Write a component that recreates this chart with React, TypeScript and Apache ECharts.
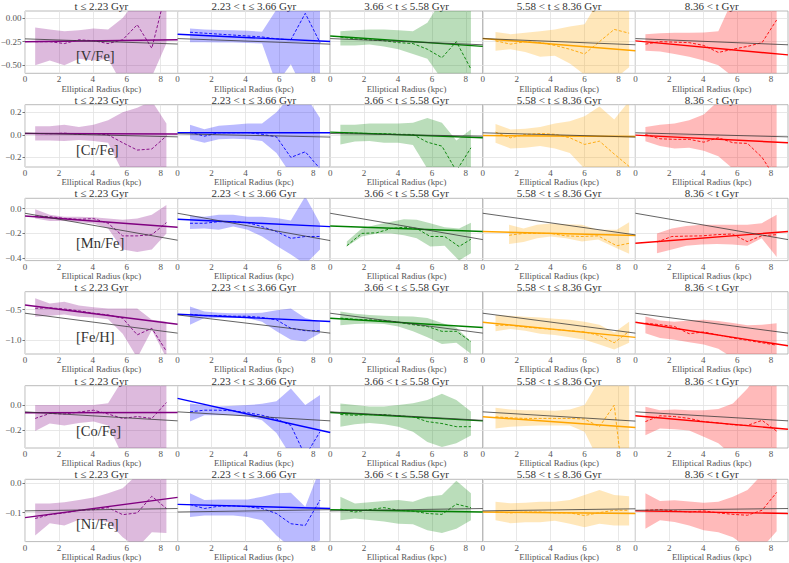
import { useEffect, useRef } from "react";
import * as echarts from "echarts";

// ---------- labels ----------
const AGE_BINS = ["t ≤ 2.23 Gyr", "2.23 < t ≤ 3.66 Gyr", "3.66 < t ≤ 5.58 Gyr", "5.58 < t ≤ 8.36 Gyr", "8.36 < t Gyr"];
const ELEMENTS = ["[V/Fe]", "[Cr/Fe]", "[Mn/Fe]", "[Fe/H]", "[Co/Fe]", "[Ni/Fe]"];
const X_LABEL = "Elliptical Radius (kpc)";
const X_TICKS = [0, 2, 4, 6, 8];
const X_RANGE = [0, 9];

// y axis per row
const Y_RANGES = [[-0.585, 0.075], [-0.285, 0.267], [-0.42, 0.084], [-1.236, -0.203], [-0.338, 0.153], [-0.199, 0.0138]];
const Y_TICKS = [[-0.5, -0.25, 0], [-0.2, 0, 0.2], [-0.4, -0.2, 0], [-1.0, -0.5], [-0.2, 0], [-0.1, 0]];
const Y_TICK_DECIMALS = [2, 1, 1, 1, 1, 1];

// radial bin centres (kpc) per age column
const RADII = [
  [0.6, 1.46, 2.32, 3.18, 4.04, 4.9, 5.76, 6.62, 7.48, 8.34],
  [0.73, 1.58, 2.43, 3.28, 4.13, 4.98, 5.83, 6.68, 7.53, 8.4],
  [0.6, 1.46, 2.31, 3.17, 4.02, 4.88, 5.73, 6.59, 7.44, 8.3],
  [0.75, 1.63, 2.5, 3.38, 4.25, 5.13, 6.0, 6.88, 7.75, 8.63],
  [0.59, 1.45, 2.31, 3.17, 4.03, 4.89, 5.75, 6.61, 7.47, 8.33],
];
// [Mn/Fe] has fewer inner bins in the older columns
const MN_RADII_COL3 = [0.98, 1.86, 2.74, 3.6, 4.35, 5.1, 5.9, 6.75, 7.6, 8.3];
const MN_RADII_COL4 = [1.55, 2.4, 3.2, 4.0, 4.9, 5.85, 6.8, 7.9, 8.63];
const MN_RADII_COL5 = [1.27, 2.15, 3.0, 3.9, 4.8, 5.7, 6.6, 7.45, 8.33];

// ---------- [V/Fe] ----------
const V_UPPER = [
  [-0.1, -0.12, -0.14, -0.13, -0.11, -0.12, 0.0, 0.2, 0.37, 0.48],
  [-0.11, -0.12, -0.125, -0.13, -0.135, -0.145, 0.09, 0.3, 0.4, 0.45],
  [-0.14, -0.13, -0.12, -0.12, -0.13, -0.14, -0.05, 0.2, 0.3, 0.3],
  [-0.147, -0.17, -0.155, -0.14, -0.12, -0.09, -0.066, 0.2, 0.3, 0.3],
  [-0.17, -0.16, -0.155, -0.155, -0.154, -0.14, 0.2, 0.3, 0.3, 0.3],
];
const V_LOWER = [
  [-0.5, -0.45, -0.5, -0.43, -0.45, -0.43, -0.71, -0.85, -0.62, -0.27],
  [-0.255, -0.255, -0.26, -0.26, -0.265, -0.27, -0.7, -0.49, -0.8, -0.8],
  [-0.29, -0.29, -0.28, -0.3, -0.33, -0.38, -0.43, -0.65, -0.65, -0.65],
  [-0.346, -0.33, -0.36, -0.41, -0.4, -0.48, -0.6, -0.65, -0.65, -0.52],
  [-0.346, -0.355, -0.38, -0.41, -0.45, -0.5, -0.62, -0.65, -0.65, -0.65],
];
const V_MEDIAN = [
  [-0.25, -0.25, -0.27, -0.23, -0.24, -0.27, -0.23, -0.07, -0.32, 0.3],
  [-0.15, -0.16, -0.17, -0.18, -0.19, -0.2, -0.22, -0.23, 0.05, -0.26],
  [-0.2, -0.22, -0.23, -0.24, -0.26, -0.27, -0.33, -0.42, -0.25, -0.54],
  [-0.241, -0.276, -0.25, -0.26, -0.29, -0.33, -0.38, -0.25, -0.12, -0.16],
  [-0.276, -0.25, -0.255, -0.26, -0.29, -0.364, -0.33, -0.3, -0.26, -0.02],
];
const V_FIT = [[-0.25, -0.23], [-0.171, -0.248], [-0.19, -0.3], [-0.217, -0.346], [-0.241, -0.39]];
const V_ALL_FIT = [[-0.22, -0.275], [-0.217, -0.276], [-0.217, -0.283], [-0.217, -0.283], [-0.217, -0.283]];

// ---------- [Cr/Fe] ----------
const CR_UPPER = [
  [0.076, 0.076, 0.09, 0.07, 0.09, 0.13, 0.2, 0.24, 0.3, 0.1],
  [0.09, 0.05, 0.08, 0.09, 0.1, 0.1, 0.2, 0.35, 0.35, 0.15],
  [0.09, 0.09, 0.1, 0.1, 0.1, 0.106, 0.15, 0.106, -0.05, 0.047],
  [0.097, 0.047, 0.055, 0.07, 0.1, 0.12, 0.165, 0.25, 0.135, 0.3],
  [0.07, 0.09, 0.1, 0.13, 0.18, 0.3, 0.35, 0.35, 0.35, 0.3],
];
const CR_LOWER = [
  [-0.05, -0.05, -0.055, -0.045, -0.055, -0.07, -0.33, -0.4, -0.4, -0.35],
  [-0.04, -0.07, -0.04, -0.035, -0.04, -0.055, -0.16, -0.35, -0.4, -0.4],
  [-0.085, -0.06, -0.055, -0.07, -0.07, -0.09, -0.3, -0.35, -0.4, -0.4],
  [-0.07, -0.12, -0.115, -0.1, -0.12, -0.16, -0.3, -0.35, -0.4, -0.4],
  [-0.056, -0.1, -0.12, -0.115, -0.14, -0.19, -0.3, -0.35, -0.4, -0.4],
];
const CR_MEDIAN = [
  [0.012, 0.01, 0.015, 0.005, 0.012, 0.0, -0.07, -0.135, -0.125, -0.01],
  [0.024, -0.012, 0.018, 0.018, 0.02, 0.005, -0.018, -0.2, -0.15, -0.3],
  [0.018, 0.015, 0.012, 0.01, 0.005, 0.003, -0.065, -0.1, -0.32, -0.115],
  [0.024, -0.026, 0.003, 0.012, 0.005, -0.026, -0.085, -0.056, -0.17, -0.28],
  [0.003, -0.035, -0.04, -0.04, -0.065, -0.026, -0.07, -0.076, -0.2, -0.4],
];
const CR_FIT = [[0.012, 0.007], [0.018, 0.018], [0.024, -0.026], [-0.006, -0.015], [-0.003, -0.07]];
const CR_ALL_FIT = [[0.015, -0.018], [0.009, -0.02], [0.012, -0.012], [0.018, -0.02], [0.018, -0.018]];

// ---------- [Mn/Fe] ----------
const MN_UPPER = [
  [-0.005, -0.05, -0.065, -0.065, -0.07, -0.08, -0.09, -0.08, -0.05, 0.03],
  [-0.055, -0.065, -0.05, -0.05, -0.065, -0.065, -0.075, -0.095, 0.1, -0.12],
  [-0.266, -0.16, -0.13, -0.105, -0.086, -0.09, -0.118, -0.15, -0.16, -0.113],
  [-0.13, -0.16, -0.13, -0.12, -0.125, -0.13, -0.17, -0.17, -0.11],
  [-0.2, -0.16, -0.14, -0.13, -0.13, -0.13, -0.13, -0.118, -0.05],
];
const MN_LOWER = [
  [-0.08, -0.1, -0.1, -0.11, -0.12, -0.16, -0.33, -0.35, -0.33, -0.2],
  [-0.165, -0.16, -0.17, -0.145, -0.17, -0.225, -0.3, -0.37, -0.45, -0.33],
  [-0.306, -0.225, -0.2, -0.2, -0.215, -0.24, -0.306, -0.3, -0.42, -0.36],
  [-0.285, -0.27, -0.24, -0.225, -0.24, -0.265, -0.25, -0.32, -0.365],
  [-0.36, -0.33, -0.3, -0.29, -0.285, -0.29, -0.3, -0.24, -0.39],
];
const MN_MEDIAN = [
  [-0.06, -0.065, -0.078, -0.086, -0.08, -0.118, -0.22, -0.22, -0.21, -0.113],
  [-0.118, -0.118, -0.105, -0.105, -0.113, -0.145, -0.185, -0.24, -0.225, -0.225],
  [-0.3, -0.2, -0.195, -0.16, -0.15, -0.16, -0.225, -0.225, -0.306, -0.247],
  [-0.215, -0.2, -0.2, -0.2, -0.22, -0.225, -0.22, -0.3, -0.28],
  [-0.27, -0.225, -0.222, -0.22, -0.21, -0.205, -0.266, -0.22, -0.21],
];
const MN_FIT = [[-0.059, -0.15], [-0.086, -0.145], [-0.14, -0.185], [-0.185, -0.217], [-0.28, -0.185]];
const MN_ALL_FIT = [[-0.037, -0.255], [-0.037, -0.258], [-0.037, -0.25], [-0.037, -0.212], [-0.037, -0.25]];

// ---------- [Fe/H] ----------
const FE_UPPER = [
  [-0.31, -0.4, -0.37, -0.43, -0.46, -0.48, -0.48, -0.48, -0.67, -0.7],
  [-0.45, -0.53, -0.55, -0.56, -0.56, -0.55, -0.51, -0.48, -0.64, -0.7],
  [-0.53, -0.57, -0.59, -0.6, -0.61, -0.615, -0.64, -0.72, -0.8, -1.03],
  [-0.59, -0.6, -0.62, -0.63, -0.65, -0.67, -0.7, -0.75, -0.88, -0.7],
  [-0.615, -0.68, -0.7, -0.68, -0.67, -0.69, -0.72, -0.76, -0.75, -0.725],
];
const FE_LOWER = [
  [-0.62, -0.6, -0.58, -0.62, -0.63, -0.66, -0.9, -1.3, -0.84, -1.3],
  [-0.75, -0.64, -0.64, -0.64, -0.64, -0.7, -0.86, -1.0, -1.03, -0.89],
  [-0.76, -0.74, -0.73, -0.74, -0.78, -0.86, -0.96, -1.07, -1.05, -1.23],
  [-0.86, -0.82, -0.85, -0.9, -0.92, -0.96, -1.0, -1.08, -1.16, -1.05],
  [-0.89, -0.97, -1.0, -1.04, -1.08, -1.15, -1.3, -1.3, -1.3, -1.3],
];
const FE_MEDIAN = [
  [-0.478, -0.47, -0.49, -0.52, -0.56, -0.588, -0.643, -0.918, -0.81, -1.19],
  [-0.577, -0.6, -0.6, -0.61, -0.61, -0.63, -0.67, -0.81, -0.85, -0.85],
  [-0.64, -0.66, -0.67, -0.68, -0.71, -0.75, -0.78, -0.86, -0.86, -1.03],
  [-0.76, -0.76, -0.79, -0.81, -0.83, -0.85, -0.87, -0.93, -1.05, -0.86],
  [-0.725, -0.75, -0.78, -0.9, -0.87, -0.92, -0.97, -1.01, -1.05, -1.09],
];
const FE_FIT = [[-0.423, -0.742], [-0.577, -0.698], [-0.643, -0.797], [-0.71, -0.96], [-0.71, -1.1]];
const FE_ALL_FIT = [[-0.56, -0.89], [-0.588, -0.89], [-0.56, -0.89], [-0.56, -0.89], [-0.56, -0.89]];

// ---------- [Co/Fe] ----------
const CO_UPPER = [
  [0.0, 0.0, 0.0, 0.0, 0.0, 0.015, 0.2, 0.3, 0.3, 0.3],
  [0.013, 0.0, -0.01, -0.005, 0.0, 0.01, 0.03, 0.13, 0.0, 0.08],
  [0.013, 0.0, -0.01, -0.01, 0.0, 0.015, 0.04, 0.09, 0.04, -0.05],
  [-0.02, -0.035, -0.04, -0.04, -0.045, -0.035, 0.0, 0.2, 0.3, 0.3],
  [-0.013, -0.04, -0.035, -0.04, -0.04, -0.03, 0.013, 0.13, 0.3, 0.3],
];
const CO_LOWER = [
  [-0.205, -0.145, -0.16, -0.14, -0.13, -0.16, -0.4, -0.45, -0.45, -0.45],
  [-0.13, -0.08, -0.08, -0.08, -0.09, -0.12, -0.22, -0.4, -0.45, -0.45],
  [-0.17, -0.15, -0.14, -0.15, -0.17, -0.21, -0.29, -0.33, -0.3, -0.24],
  [-0.184, -0.17, -0.165, -0.16, -0.16, -0.16, -0.21, -0.45, -0.5, -0.5],
  [-0.237, -0.184, -0.19, -0.2, -0.25, -0.3, -0.4, -0.45, -0.45, -0.45],
];
const CO_MEDIAN = [
  [-0.105, -0.066, -0.07, -0.055, -0.04, -0.07, -0.105, -0.09, -0.105, 0.02],
  [-0.053, -0.04, -0.04, -0.045, -0.06, -0.08, -0.11, -0.16, -0.4, -0.21],
  [-0.074, -0.08, -0.075, -0.075, -0.085, -0.092, -0.13, -0.145, -0.17, -0.17],
  [-0.092, -0.1, -0.105, -0.105, -0.105, -0.105, -0.11, -0.17, 0.0, -1.0],
  [-0.13, -0.084, -0.09, -0.105, -0.13, -0.14, -0.155, -0.16, -0.12, -0.205],
];
const CO_FIT = [[-0.06, -0.058], [0.053, -0.216], [-0.058, -0.124], [-0.092, -0.176], [-0.084, -0.19]];
const CO_ALL_FIT = [[-0.053, -0.124], [-0.053, -0.124], [-0.053, -0.12], [-0.053, -0.126], [-0.053, -0.124]];

// ---------- [Ni/Fe] ----------
const NI_UPPER = [
  [-0.069, -0.069, -0.065, -0.057, -0.048, -0.034, -0.017, 0.03, 0.05, 0.05],
  [-0.034, -0.057, -0.055, -0.055, -0.055, -0.046, -0.034, -0.032, -0.08, 0.05],
  [-0.046, -0.069, -0.065, -0.06, -0.057, -0.063, -0.046, -0.04, 0.009, -0.034],
  [-0.063, -0.068, -0.066, -0.063, -0.063, -0.057, -0.04, -0.023, -0.04, -0.044],
  [-0.034, -0.06, -0.058, -0.062, -0.066, -0.063, -0.046, -0.023, 0.03, 0.05],
];
const NI_LOWER = [
  [-0.178, -0.136, -0.144, -0.124, -0.124, -0.132, -0.184, -0.22, -0.167, -0.17],
  [-0.115, -0.11, -0.11, -0.11, -0.115, -0.126, -0.178, -0.22, -0.22, -0.195],
  [-0.126, -0.12, -0.125, -0.13, -0.138, -0.14, -0.16, -0.17, -0.155, -0.126],
  [-0.126, -0.136, -0.133, -0.133, -0.128, -0.138, -0.15, -0.138, -0.144, -0.144],
  [-0.155, -0.126, -0.132, -0.144, -0.16, -0.167, -0.184, -0.22, -0.22, -0.164],
];
const NI_MEDIAN = [
  [-0.12, -0.107, -0.101, -0.092, -0.09, -0.083, -0.107, -0.101, -0.044, -0.086],
  [-0.072, -0.086, -0.078, -0.077, -0.08, -0.086, -0.103, -0.138, -0.144, -0.057],
  [-0.088, -0.098, -0.09, -0.083, -0.092, -0.095, -0.103, -0.106, -0.071, -0.083],
  [-0.098, -0.101, -0.098, -0.098, -0.101, -0.101, -0.11, -0.1, -0.092, -0.092],
  [-0.092, -0.09, -0.094, -0.098, -0.094, -0.101, -0.106, -0.109, -0.092, -0.031],
];
const NI_FIT = [[-0.117, -0.048], [-0.072, -0.086], [-0.09, -0.098], [-0.098, -0.103], [-0.094, -0.103]];
const NI_ALL_FIT = [[-0.094, -0.086], [-0.098, -0.09], [-0.094, -0.086], [-0.094, -0.087], [-0.092, -0.086]];

// ---------- assembly tables ----------
const ROWS = [
  { upper: V_UPPER, lower: V_LOWER, median: V_MEDIAN, fit: V_FIT, allFit: V_ALL_FIT, radii: RADII },
  { upper: CR_UPPER, lower: CR_LOWER, median: CR_MEDIAN, fit: CR_FIT, allFit: CR_ALL_FIT, radii: RADII },
  { upper: MN_UPPER, lower: MN_LOWER, median: MN_MEDIAN, fit: MN_FIT, allFit: MN_ALL_FIT, radii: [RADII[0], RADII[1], MN_RADII_COL3, MN_RADII_COL4, MN_RADII_COL5] },
  { upper: FE_UPPER, lower: FE_LOWER, median: FE_MEDIAN, fit: FE_FIT, allFit: FE_ALL_FIT, radii: RADII },
  { upper: CO_UPPER, lower: CO_LOWER, median: CO_MEDIAN, fit: CO_FIT, allFit: CO_ALL_FIT, radii: RADII },
  { upper: NI_UPPER, lower: NI_LOWER, median: NI_MEDIAN, fit: NI_FIT, allFit: NI_ALL_FIT, radii: RADII },
];

// ---------- style / layout ----------
const COLORS = ["#800080", "#0000ff", "#008000", "#ffa500", "#ff0000"];
const FONT = "Liberation Serif";
const COL_LEFT = 25;
const COL_W = 152.6;
const ROW_TOPS = [11, 104.7, 198.3, 291.7, 385.7, 479.3];
const PLOT_H = 62.3;

function fmtTick(v: number, dec: number) {
  const s = Math.abs(v).toFixed(dec);
  return v < 0 ? "\u2212" + s : s;
}

function buildOption() {
  const grid: any[] = [];
  const xAxis: any[] = [];
  const yAxis: any[] = [];
  const series: any[] = [];
  const graphic: any[] = [];

  ROWS.forEach((row, r) => {
    for (let c = 0; c < 5; c++) {
      const idx = r * 5 + c;
      const left = COL_LEFT + c * COL_W;
      const top = ROW_TOPS[r];
      const color = COLORS[c];
      grid.push({
        left, top, width: COL_W, height: PLOT_H,
        show: true, borderColor: "#a8a8a8", borderWidth: 0.8,
        containLabel: false, outerBoundsMode: "none",
      });
      xAxis.push({
        gridIndex: idx, type: "value", min: X_RANGE[0], max: X_RANGE[1],
        name: X_LABEL, nameLocation: "middle", nameGap: 10.8, nameMoveOverlap: false,
        nameTextStyle: { fontFamily: FONT, fontSize: 8.8, color: "#555" },
        axisLine: { show: false },
        axisTick: { show: false, customValues: X_TICKS },
        axisLabel: { customValues: X_TICKS, fontFamily: FONT, fontSize: 9, color: "#555", margin: 1.5 },
        splitLine: { show: true, lineStyle: { color: "#e2e2e2", width: 0.8 } },
      });
      const dec = Y_TICK_DECIMALS[r];
      yAxis.push({
        gridIndex: idx, type: "value", min: Y_RANGES[r][0], max: Y_RANGES[r][1],
        axisLine: { show: false },
        axisTick: { show: c === 0, customValues: Y_TICKS[r], length: 2.5, lineStyle: { color: "#777" } },
        axisLabel: {
          show: c === 0, customValues: Y_TICKS[r], fontFamily: FONT, fontSize: 9, color: "#555", margin: 3.5,
          formatter: (v: number) => fmtTick(v, dec),
        },
        splitLine: { show: true, lineStyle: { color: "#e2e2e2", width: 0.8 } },
      });

      const xs = row.radii[c];
      const lo = row.lower[c];
      const up = row.upper[c];
      const med = row.median[c];
      series.push({
        type: "custom", xAxisIndex: idx, yAxisIndex: idx, clip: true, silent: true, z: 1,
        data: xs.map((x, i) => [x, lo[i], up[i]]),
        encode: { x: 0, y: [1, 2] },
        renderItem: (params: any, api: any) => {
          if (params.dataIndex !== 0) return null;
          const upperPts = xs.map((x, i) => api.coord([x, up[i]]));
          const lowerPts = xs.map((x, i) => api.coord([x, lo[i]])).reverse();
          return {
            type: "polygon",
            shape: { points: upperPts.concat(lowerPts) },
            style: { fill: color, opacity: 0.27 },
          };
        },
      });
      series.push({
        type: "line", xAxisIndex: idx, yAxisIndex: idx,
        data: xs.map((x, i) => [x, med[i]]), symbol: "none", silent: true, clip: true, z: 2,
        lineStyle: { color, width: 0.9, type: [3, 1.8] },
      });
      series.push({
        type: "line", xAxisIndex: idx, yAxisIndex: idx,
        data: [[X_RANGE[0], row.fit[c][0]], [X_RANGE[1], row.fit[c][1]]], symbol: "none", silent: true, clip: true, z: 3,
        lineStyle: { color, width: 1.4 },
      });
      series.push({
        type: "line", xAxisIndex: idx, yAxisIndex: idx,
        data: [[X_RANGE[0], row.allFit[c][0]], [X_RANGE[1], row.allFit[c][1]]], symbol: "none", silent: true, clip: true, z: 4,
        lineStyle: { color: "#333", width: 0.9, opacity: 0.85 },
      });

      graphic.push({
        type: "text", x: left + COL_W / 2, y: top - 5, silent: true,
        style: { text: AGE_BINS[c], fontFamily: FONT, fontSize: 11, fill: "#333", align: "center", verticalAlign: "middle" },
      });
    }
    graphic.push({
      type: "text", x: 76, y: ROW_TOPS[r] + 45, silent: true, z: 10,
      style: { text: ELEMENTS[r], fontFamily: FONT, fontSize: 14.5, fill: "#333", align: "left", verticalAlign: "middle" },
    });
  });

  return { animation: false, backgroundColor: "#fff", textStyle: { fontFamily: FONT }, grid, xAxis, yAxis, series, graphic };
}

export default function App() {
  const ref = useRef<HTMLDivElement>(null);
  useEffect(() => {
    if (!ref.current) return;
    const chart = echarts.init(ref.current, undefined, { renderer: "svg" });
    chart.setOption(buildOption() as any);
    return () => chart.dispose();
  }, []);
  return <div ref={ref} style={{ position: "fixed", left: 0, top: 0, width: 789, height: 563 }} />;
}
